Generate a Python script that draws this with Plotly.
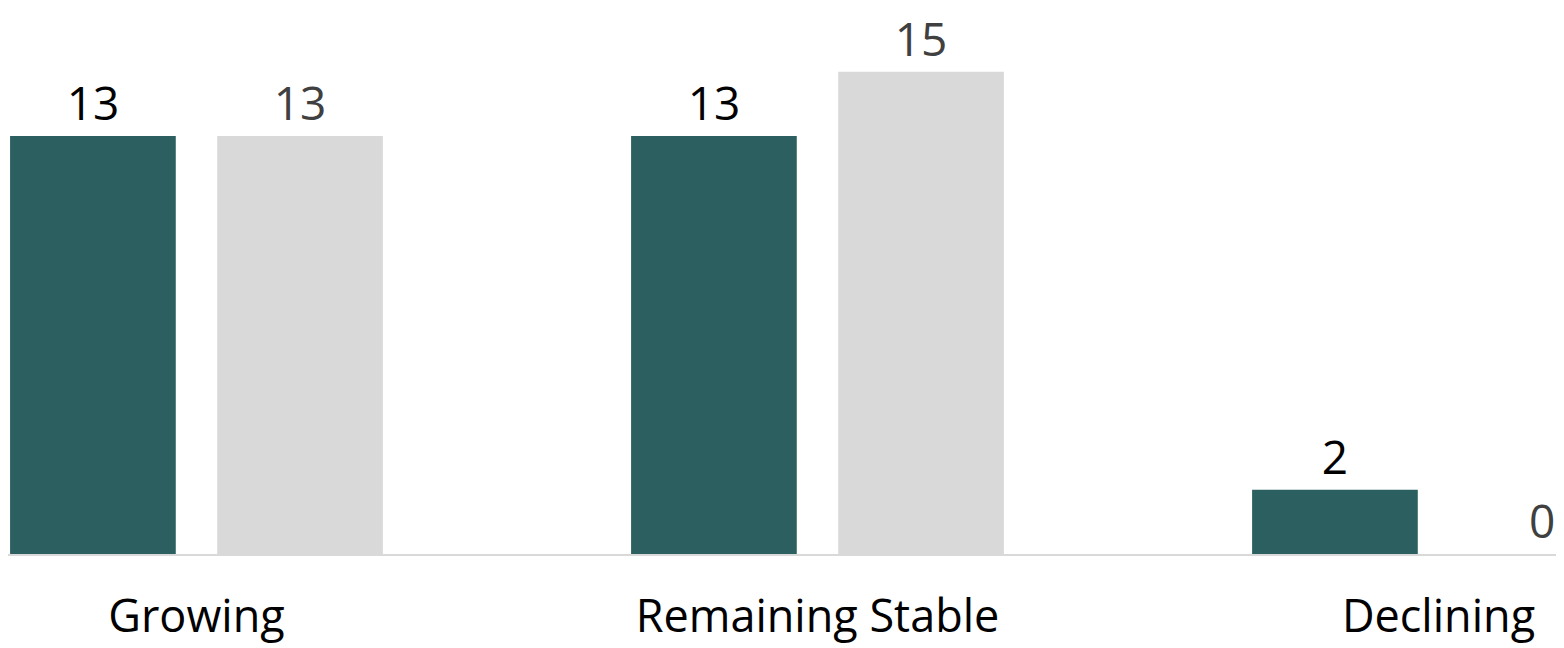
import plotly.graph_objects as go

categories = ["Growing", "Remaining Stable", "Declining"]
series_a = [13, 13, 2]
series_b = [13, 15, 0]
positions = [0, 1, 2]

fig = go.Figure()
fig.add_trace(go.Bar(
    x=positions, y=series_a, name="A",
    marker=dict(color="#2C5F5F", line=dict(width=0)),
    text=[str(v) for v in series_a], textposition="outside",
    textfont=dict(family="Open Sans", size=46, color="#000000"),
    cliponaxis=False,
))
fig.add_trace(go.Bar(
    x=positions, y=series_b, name="B",
    marker=dict(color="#D9D9D9", line=dict(width=0)),
    text=[str(v) for v in series_b], textposition="outside",
    textfont=dict(family="Open Sans", size=46, color="#404040"),
    cliponaxis=False,
))

fig.update_layout(
    width=1556, height=640,
    margin=dict(l=0, r=0, t=0, b=94, autoexpand=False),
    paper_bgcolor="white", plot_bgcolor="white",
    barmode="group", bargap=0.333, bargroupgap=0.2,
    showlegend=False,
    font=dict(family="Open Sans", color="#000000"),
)
fig.update_xaxes(
    range=[-0.3035, 2.2021],
    tickvals=positions, ticktext=categories,
    tickfont=dict(family="Open Sans", size=45, color="#000000"),
    showline=True, linecolor="#D9D9D9", linewidth=2,
    ticks="outside", ticklen=22, tickcolor="rgba(0,0,0,0)",
    showgrid=False, zeroline=False, automargin=False,
)
fig.update_yaxes(
    range=[0, 16.98], visible=False, showgrid=False, zeroline=False,
    automargin=False,
)

fig.write_html("out.html")
